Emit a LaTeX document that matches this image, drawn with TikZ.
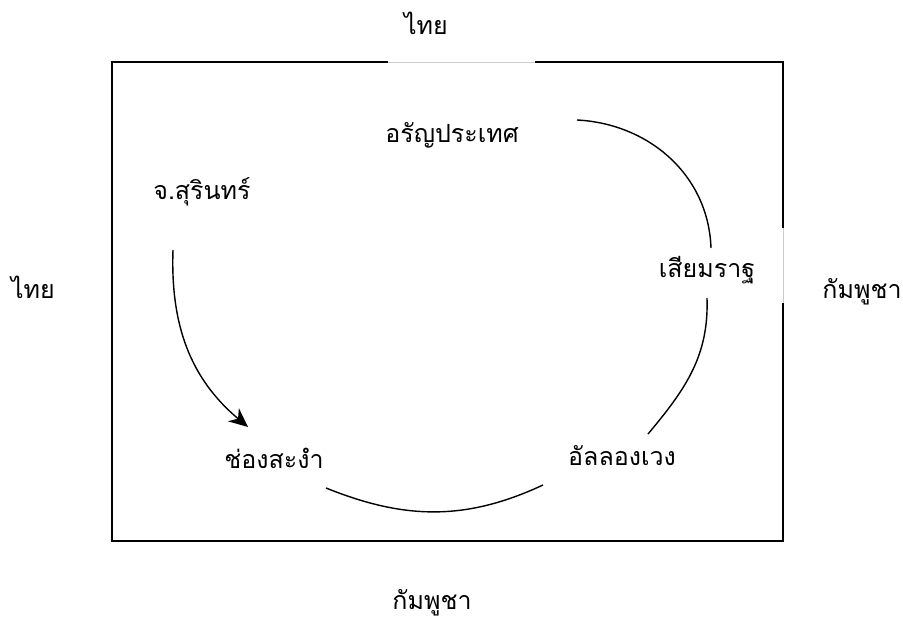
\documentclass[tikz,border=0pt]{standalone}
\usepackage{fontspec}
\newfontfamily\thaifont[Script=Thai]{Loma}
\usetikzlibrary{arrows.meta}
\tikzset{
  place/.style={font=\thaifont\fontsize{25}{30}\selectfont,inner sep=1pt},
  frame line/.style={line width=1.4pt,draw=black},
  gap line/.style={line width=0.6pt,draw=black!20},
  route/.style={line width=1.4pt,draw=black},
  route arrow/.style={route,-{Stealth[length=19pt,width=17pt,inset=6pt]}}
}

\begin{document}
\begin{tikzpicture}[x=1pt,y=1pt]
\useasboundingbox (0,0) rectangle (903,621);
% frame with the two openings
\draw[frame line] (388,559) -- (112,559) -- (112,80) -- (783,80) -- (783,318);
\draw[frame line] (535,559) -- (783,559) -- (783,393);
\draw[gap line] (388,559) -- (535,559);
\draw[gap line] (783,318) -- (783,393);
% places
\node[place] (aran) at (452,486) {อรัญประเทศ};
\node[place] (surin) at (202,429) {จ.สุรินทร์};
\node[place] (siem) at (707,351) {เสียมราฐ};
\node[place] (chong) at (274,163) {ช่องสะงำ};
\node[place] (along) at (622,165) {อัลลองเวง};
% countries outside
\node[place] (thaiN) at (426,598) {ไทย};
\node[place] (thaiW) at (33,334) {ไทย};
\node[place] (khmerE) at (862,329) {กัมพูชา};
\node[place] (khmerS) at (432,18) {กัมพูชา};
% routes
\draw[route] ([shift={(125,15)}]aran.center) to[out=-3,in=92] ([shift={(4,22)}]siem.center);
\draw[route] ([shift={(0,-28)}]siem.center) to[out=-88,in=50] ([shift={(26,22)}]along.center);
\draw[route] ([shift={(52,-30)}]chong.center) to[out=-22,in=205] ([shift={(-79,-29)}]along.center);
\draw[route arrow] ([shift={(-29,-58)}]surin.center) to[out=-92,in=140] ([shift={(-26,31)}]chong.center);
\end{tikzpicture}
\end{document}
